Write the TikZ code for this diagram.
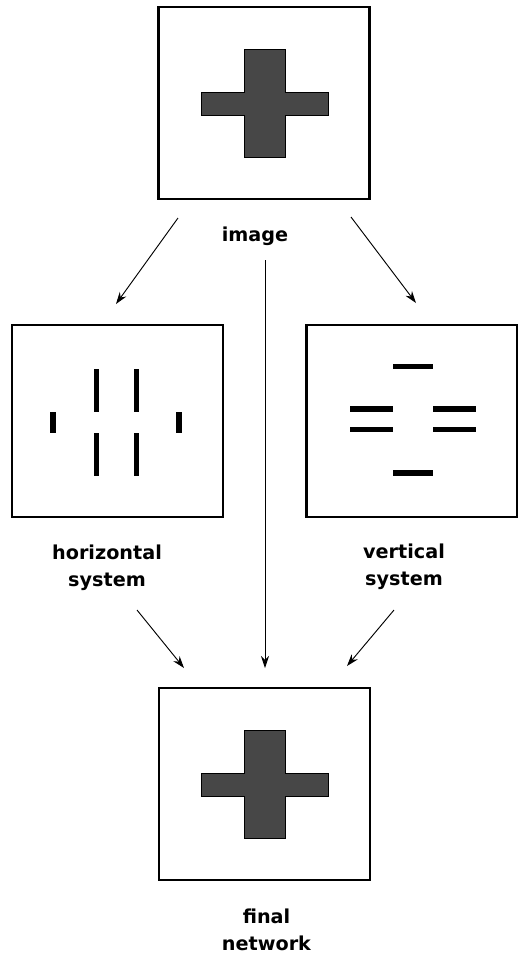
\documentclass[tikz,border=0pt]{standalone}
\usepackage{fontspec}
\setmainfont{DejaVu Sans}
\usetikzlibrary{arrows.meta}
\begin{document}
\begin{tikzpicture}[x=0.75pt,y=-0.75pt,
  panel/.style={draw=black,line width=1.8pt,minimum width=158pt,minimum height=144pt,inner sep=0pt},
  lbl/.style={font=\fontsize{14.4}{20}\selectfont\bfseries,align=center,inner sep=0pt},
  bar/.style={line width=4pt,black},
  link/.style={draw=black,line width=0.7pt,-{Stealth[length=9pt,width=6pt]}},
  crossfill/.style={fill=black!72,draw=black,line width=0.7pt}]
\useasboundingbox (0,0) rectangle (518,961);
% panels
\node[panel] (img) at (264,103) {};
\node[panel] (hor) at (117.5,421) {};
\node[panel] (ver) at (412,421) {};
\node[panel] (fin) at (264.5,784) {};
% crosses
\path[crossfill] (244,49) -- (285,49) -- (285,92) -- (328,92) -- (328,115) -- (285,115) -- (285,157) -- (244,157) -- (244,115) -- (201,115) -- (201,92) -- (244,92) -- cycle;
\path[crossfill] (244,730) -- (285,730) -- (285,773) -- (328,773) -- (328,796) -- (285,796) -- (285,838) -- (244,838) -- (244,796) -- (201,796) -- (201,773) -- (244,773) -- cycle;
% horizontal system bars
\draw[bar] (53,412) -- (53,433);
\draw[bar] (179,412) -- (179,433);
\draw[bar] (96.5,369) -- (96.5,412);
\draw[bar] (136.5,369) -- (136.5,412);
\draw[bar] (96.5,433) -- (96.5,476);
\draw[bar] (136.5,433) -- (136.5,476);
% vertical system bars
\draw[bar] (393,366.5) -- (433,366.5);
\draw[bar] (350,409) -- (393,409);
\draw[bar] (350,429.5) -- (393,429.5);
\draw[bar] (433,409) -- (476,409);
\draw[bar] (433,429.5) -- (476,429.5);
\draw[bar] (393,473) -- (433,473);
% labels
\node[lbl] (limg) at (255,236) {image};
\node[lbl] (lhor) at (107,568) {horizontal\\system};
\node[lbl] (lver) at (404,567) {vertical\\system};
\node[lbl] (lfin) at (266.5,930) {final\\network};
% connector endpoints
\coordinate (a1s) at (178,218);
\coordinate (a1e) at (116,304);
\coordinate (a2s) at (351,217);
\coordinate (a2e) at (416,303);
\coordinate (a3s) at (265,260);
\coordinate (a3e) at (265,668);
\coordinate (a4s) at (137,610);
\coordinate (a4e) at (184,668);
\coordinate (a5s) at (394,610);
\coordinate (a5e) at (347,666);
\draw[link] (a1s) -- (a1e);
\draw[link] (a2s) -- (a2e);
\draw[link] (a3s) -- (a3e);
\draw[link] (a4s) -- (a4e);
\draw[link] (a5s) -- (a5e);
\end{tikzpicture}
\end{document}
